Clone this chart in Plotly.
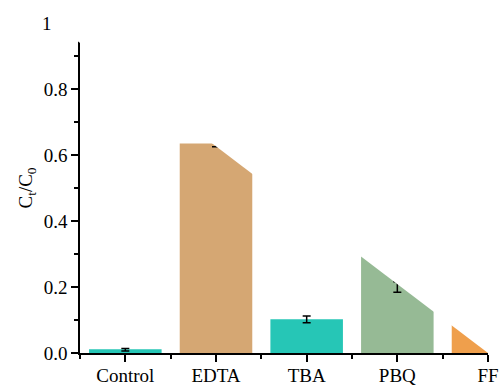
import plotly.graph_objects as go

categories = ["Control", "EDTA", "TBA", "PBQ", "FF"]
bar_values = [0.011, 0.635, 0.102, 0.36, 0.15]
err_centers = [0.010, 0.635, 0.102, 0.200, 0.150]
err_sizes = [0.004, 0.010, 0.010, 0.016, 0.010]
bar_colors = ["#26C6B6", "#D5A773", "#26C6B6", "#96BA95", "#EF9F4C"]
y_tickvals = [0, 0.2, 0.4, 0.6, 0.8]
y_ticktext = ["0.0", "0.2", "0.4", "0.6", "0.8"]

xpos = list(range(len(categories)))
font = dict(family="Times New Roman, Liberation Serif, serif",
            size=19, color="black")

fig = go.Figure()
fig.add_trace(go.Bar(x=xpos, y=bar_values, width=0.8,
                     marker=dict(color=bar_colors, line=dict(width=0)),
                     showlegend=False))
fig.add_trace(go.Scatter(x=xpos, y=err_centers, mode="markers",
                         marker=dict(size=1, color="rgba(0,0,0,0)"),
                         error_y=dict(type="data", array=err_sizes, visible=True,
                                      color="black", thickness=1.5, width=4),
                         showlegend=False))

# diagonal white mask (clipping of the original graphic)
fig.add_shape(type="path", xref="paper", yref="paper",
              path="M -0.012,0.951 L 1.0,0 L 1.04,0 L 1.04,1.0 L -0.012,1.0 Z",
              fillcolor="white", line=dict(width=0), layer="above")

fig.add_annotation(text="1", xref="paper", yref="y", x=-0.081, y=1.0,
                   showarrow=False, font=font, xanchor="center", yanchor="middle")

fig.update_layout(
    width=501, height=387,
    margin=dict(l=80, r=13, t=23, b=34),
    plot_bgcolor="white", paper_bgcolor="white",
    font=font,
    bargap=0.2,
)
fig.update_xaxes(range=[-0.5, 4], tickvals=xpos, ticktext=categories,
                 automargin=False, ticklabelstandoff=-3,
                 showline=True, linecolor="black", linewidth=1.5,
                 ticks="outside", ticklen=7, tickwidth=1.5, tickcolor="black",
                 showgrid=False, zeroline=False, tickfont=font,
                 minor=dict(tickvals=[-0.5, 0.5, 1.5, 2.5, 3.5], ticks="outside",
                            ticklen=4, tickwidth=1.5, tickcolor="black"))
fig.update_yaxes(range=[0, 1], tickvals=y_tickvals, ticktext=y_ticktext,
                 automargin=False,
                 showline=True, linecolor="black", linewidth=1.5,
                 ticks="outside", ticklen=7, tickwidth=1.5, tickcolor="black",
                 showgrid=False, zeroline=False, tickfont=font,
                 title=dict(text="C<sub>t</sub>/C<sub>0</sub>", font=font, standoff=6),
                 minor=dict(tickvals=[0.1, 0.3, 0.5, 0.7, 0.9], ticks="outside",
                            ticklen=4, tickwidth=1.5, tickcolor="black"))

fig.write_html("out.html")
